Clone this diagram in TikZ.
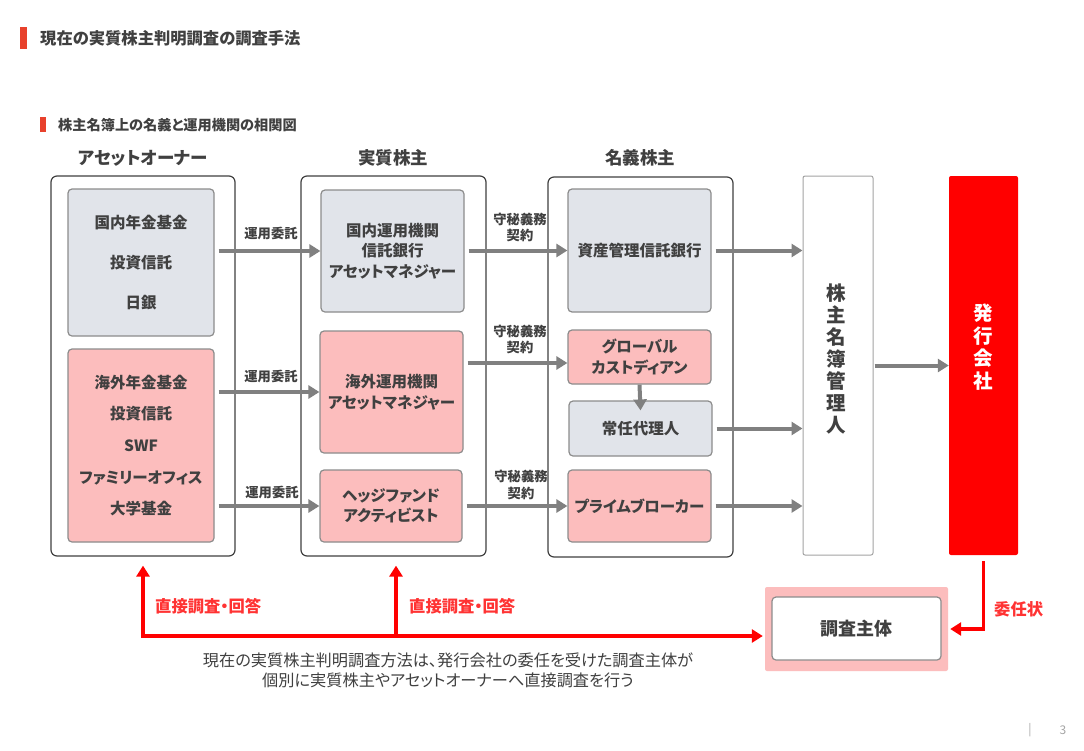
\documentclass[tikz,border=0pt]{standalone}
\usepackage{fontspec}
\setmainfont{Noto Sans CJK JP}[RawFeature=+palt]
\usetikzlibrary{arrows.meta}
\definecolor{txt}{HTML}{404040}
\definecolor{outl}{HTML}{404040}
\definecolor{inl}{HTML}{8C8C8C}
\definecolor{grayfill}{HTML}{E1E4EA}
\definecolor{pinkfill}{HTML}{FCBDBD}
\definecolor{arrg}{HTML}{808080}
\definecolor{brand}{HTML}{E8412C}
\definecolor{rd}{HTML}{FF0000}
\definecolor{rdtxt}{HTML}{FF3333}
\begin{document}
\begin{tikzpicture}[x=1pt,y=-1pt,
  every node/.style={text=txt, inner sep=0pt, align=center},
  outerbox/.style={draw=outl, line width=1.2pt, rounded corners=6pt, fill=white},
  inbox/.style={draw=inl, line width=1.2pt, rounded corners=4pt},
  gbox/.style={inbox, fill=grayfill},
  pbox/.style={inbox, fill=pinkfill},
  sz/.style n args={2}{minimum width=#1pt, minimum height=#2pt},
  btxt/.style={font=\fontsize{15.5}{#1}\selectfont\bfseries},
  btxt/.default=20.5,
  garrow/.style={draw=arrg, line width=4pt, -{Triangle[length=11pt,width=13pt]}, shorten <=4pt},
  rarrow/.style={draw=rd, line width=3.5pt, -{Triangle[length=11pt,width=13pt]}},
  lbl/.style={font=\fontsize{13.3}{16.5}\selectfont\bfseries},
  hdr/.style={font=\fontsize{17.5}{20}\selectfont\bfseries},
  rlbl/.style={text=rdtxt, font=\fontsize{16.3}{18}\selectfont\bfseries},
]
\useasboundingbox (0,0) rectangle (1084,750);
\fill[white] (0,0) rectangle (1084,750);

% titles
\fill[brand] (20,27) rectangle (27,49);
\node[anchor=west, font=\fontsize{16.3}{18}\selectfont\bfseries] (title) at (40,38) {現在の実質株主判明調査の調査手法};
\fill[brand] (40,117) rectangle (46,132);
\node[anchor=west, font=\fontsize{14.2}{16}\selectfont\bfseries] (subtitle) at (58,125) {株主名簿上の名義と運用機関の相関図};

% headers
\node[hdr] (hA) at (143,158) {アセットオーナー};
\node[hdr] (hB) at (393,158) {実質株主};
\node[hdr] (hC) at (640,158) {名義株主};

% outer boxes
\node[outerbox, sz={184}{380}] (A) at (143,366) {};
\node[outerbox, sz={185}{380}] (B) at (393.5,366) {};
\node[outerbox, sz={185}{380}] (C) at (640.5,367) {};

% column A
\node[gbox, sz={146}{147}, btxt=40] (A1) at (141,262.5) {国内年金基金\\投資信託\\日銀};
\node[pbox, sz={146}{193}, btxt=31.7] (A2) at (141,445.5) {海外年金基金\\投資信託\\SWF\\ファミリーオフィス\\大学基金};

% column B
\node[gbox, sz={143}{122}, btxt] (B1) at (392.5,251) {国内運用機関\\信託銀行\\アセットマネジャー};
\node[pbox, sz={143}{122}, btxt] (B2) at (391.5,392) {海外運用機関\\アセットマネジャー};
\node[pbox, sz={142}{72}, btxt] (B3) at (391,506) {ヘッジファンド\\アクティビスト};

% column C
\node[gbox, sz={143}{123}, btxt] (C1) at (639.5,250.5) {資産管理信託銀行};
\node[pbox, sz={143}{54}, btxt] (C2) at (639.5,357) {グローバル\\カストディアン};
\node[gbox, sz={143}{55}, btxt] (C3) at (640.5,428.5) {常任代理人};
\node[pbox, sz={143}{72}, btxt] (C4) at (639.5,506) {プライムブローカー};

% registrar and issuer
\node[draw=inl!80, line width=1pt, rounded corners=2pt, fill=white, sz={70}{379}] (D) at (838,365.5) {};
\node[font=\fontsize{19.5}{22}\selectfont\bfseries] (Dt) at (836,359) {株\\主\\名\\簿\\管\\理\\人};
\node[fill=rd, rounded corners=2pt, sz={69}{379}] (E) at (983.5,365.5) {};
\node[text=white, font=\fontsize{19.5}{22.7}\selectfont\bfseries] (Et) at (983.5,347) {発\\行\\会\\社};

% investigator
\node[fill=pinkfill, rounded corners=2pt, sz={183}{84}] (Zo) at (856.5,629) {};
\node[draw=inl, line width=1.2pt, rounded corners=4pt, fill=white, sz={169}{63}, font=\fontsize{18}{20}\selectfont\bfseries] (Zi) at (856.5,628.5) {調査主体};

% gray arrows
\draw[garrow] (A1.east |- B1.west) -- (B1.west);
\draw[garrow] (A2.east |- B2.west) -- (B2.west);
\draw[garrow] (A2.east |- B3.west) -- (B3.west);
\draw[garrow] (B1.east |- C1.west) -- (C1.west);
\draw[garrow] ([yshift=-6]B2.east |- C2.west) -- ([yshift=-6]C2.west);
\draw[garrow] (B3.east |- C4.west) -- (C4.west);
\draw[garrow] (C1.east) -- (C1.east -| D.west);
\draw[garrow, shorten <=0pt] (C2.south) -- ([yshift=-10]C3.north);
\draw[garrow] (C3.east) -- (C3.east -| D.west);
\draw[garrow] (C4.east) -- (C4.east -| D.west);
\draw[garrow, shorten <=1pt] (D.east) -- (E.west);

% arrow labels
\node[lbl] (l1) at (271,233) {運用委託};
\node[lbl] (l2) at (271,376) {運用委託};
\node[lbl] (l3) at (272,492) {運用委託};
\node[lbl] (l4) at (520,227.5) {守秘義務\\契約};
\node[lbl] (l5) at (520,339.5) {守秘義務\\契約};
\node[lbl] (l6) at (521,485) {守秘義務\\契約};

% red arrows
\coordinate (j1) at (143,636);
\coordinate (j2) at (396,636);
\draw[rarrow] (j1) -- ([yshift=-9]A.south);
\draw[rarrow] (j2) -- ([yshift=-9]j2 |- B.south);
\draw[rarrow, line cap=rect] (j1) -- ([xshift=-2]Zo.west |- j1);
\draw[rarrow] ([yshift=-6]E.south) |- ([xshift=2]Zo.east);
\node[rlbl, anchor=west] (r1) at (155,606) {直接調査・回答};
\node[rlbl, anchor=west] (r2) at (409,606) {直接調査・回答};
\node[rlbl, anchor=west, font=\fontsize{16.3}{18}\selectfont\bfseries] (r3) at (994,609) {委任状};

% bottom note
\node[font=\fontsize{16.2}{20}\selectfont] (note) at (448,670) {現在の実質株主判明調査方法は、発行会社の委任を受けた調査主体が\\個別に実質株主やアセットオーナーへ直接調査を行う};

% footer
\node[text=gray!70, font=\fontsize{12}{14}\selectfont] (bar) at (1030,730) {|};
\node[text=gray!70, font=\fontsize{12}{14}\selectfont] (pg) at (1063,730) {3};
\end{tikzpicture}
\end{document}
